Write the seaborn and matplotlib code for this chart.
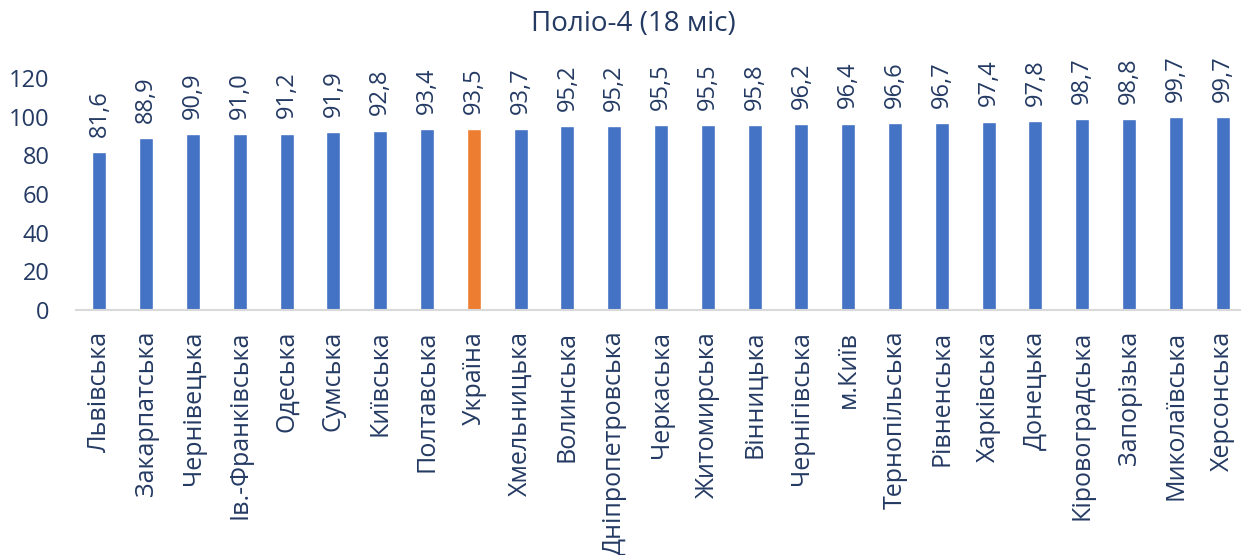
import matplotlib
matplotlib.use("Agg")
import matplotlib.pyplot as plt
import seaborn as sns
import pandas as pd

regions = ["Львівська", "Закарпатська", "Чернівецька", "Ів.-Франківська", "Одеська",
           "Сумська", "Київська", "Полтавська", "Україна", "Хмельницька", "Волинська",
           "Дніпропетровська", "Черкаська", "Житомирська", "Вінницька", "Чернігівська",
           "м.Київ", "Тернопільська", "Рівненська", "Харківська", "Донецька",
           "Кіровоградська", "Запорізька", "Миколаївська", "Херсонська"]
values = [81.6, 88.9, 90.9, 91.0, 91.2, 91.9, 92.8, 93.4, 93.5, 93.7, 95.2,
          95.2, 95.5, 95.5, 95.8, 96.2, 96.4, 96.6, 96.7, 97.4, 97.8,
          98.7, 98.8, 99.7, 99.7]
title = "Поліо-4 (18 міс)"
yticks = [0, 20, 40, 60, 80, 100, 120]

BLUE = "#4472C4"
ORANGE = "#ED7D31"
TXT = "#243A63"

sns.set_theme(style="white")
plt.rcParams["font.family"] = ["Open Sans", "DejaVu Sans"]

df = pd.DataFrame({"region": regions, "value": values})
palette = {r: (ORANGE if r == "Україна" else BLUE) for r in regions}

fig = plt.figure(figsize=(12.41, 5.55), dpi=100)
ax = fig.add_axes([76 / 1241, (555 - 310) / 555, 1170 / 1241, 232 / 555])
sns.barplot(data=df, x="region", y="value", hue="region", palette=palette,
            width=0.3, legend=False, ax=ax, saturation=1)

ax.set_ylim(0, 120)
ax.set_xlim(-0.5, len(regions) - 0.5)
ax.set_yticks(yticks)
ax.set_yticklabels([str(t) for t in yticks], fontsize=17, color=TXT)
ax.set_xticks(range(len(regions)))
ax.set_xticklabels(regions, rotation=90, fontsize=18, color=TXT)
ax.tick_params(axis="both", length=0)
ax.tick_params(axis="y", pad=19)
ax.tick_params(axis="x", pad=15)
ax.set_xlabel("")
ax.set_ylabel("")
for s in ["top", "right", "left"]:
    ax.spines[s].set_visible(False)
ax.spines["bottom"].set_color("#D9D9D9")
ax.spines["bottom"].set_linewidth(1.5)

for i, v in enumerate(values):
    ax.annotate(f"{v:.1f}".replace(".", ","), (i, v), xytext=(0, 11),
                textcoords="offset points", rotation=90, ha="center", va="bottom",
                fontsize=17, color=TXT, annotation_clip=False)

fig.text(633 / 1241, 1 - 24 / 555, title, ha="center", va="center",
         fontsize=20, color=TXT)

fig.savefig("out.png", dpi=100)
